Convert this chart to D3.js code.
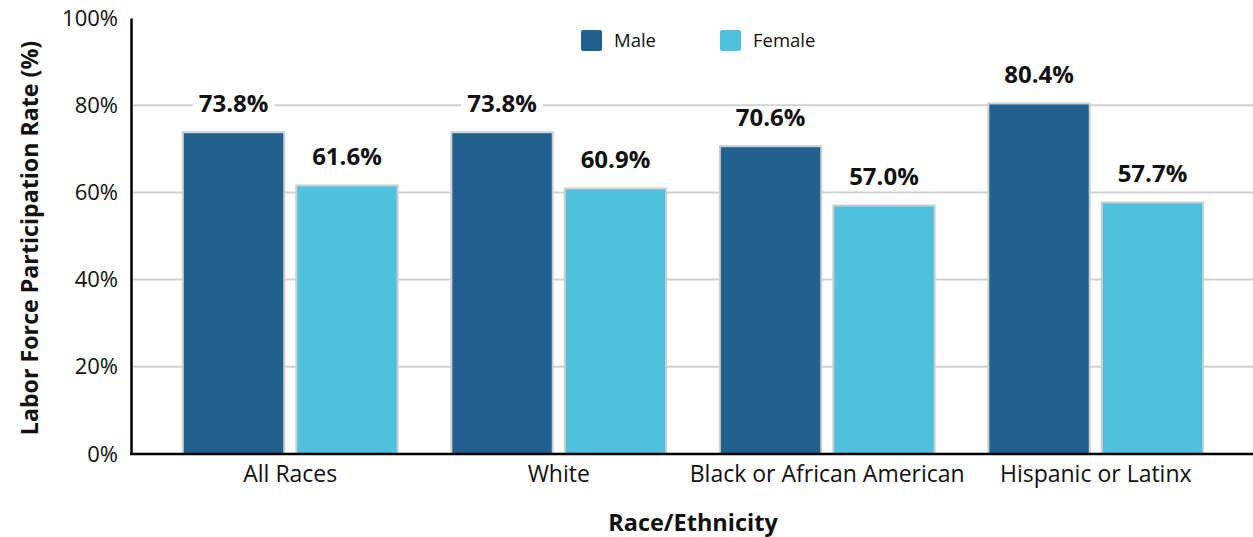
<!DOCTYPE html>
<html>
<head>
<meta charset="utf-8">
<script src="https://cdn.jsdelivr.net/npm/d3@7"></script>
<style>
  body { margin: 0; background: #fff; }
  svg { display: block; font-family: "Open Sans", "Noto Sans", sans-serif; }
</style>
</head>
<body>
<div class="chart"></div>
<script>
const categories = ["All Races", "White", "Black or African American", "Hispanic or Latinx"];
const seriesNames = ["Male", "Female"];
const male = [73.8, 73.8, 70.6, 80.4];
const female = [61.6, 60.9, 57.0, 57.7];
const yTicks = [0, 20, 40, 60, 80, 100];
const colors = ["#22618f", "#4fc1de"];

const width = 1253;
const height = 537;

const svg = d3.select(".chart").append("svg")
  .attr("width", width)
  .attr("height", height);

const x = d3.scaleBand()
  .domain(categories)
  .range([156, 1230])
  .paddingInner(0.2)
  .paddingOuter(0.1);

const xInner = d3.scaleBand()
  .domain(seriesNames)
  .range([0, x.bandwidth()])
  .paddingInner(0.106);

const y = d3.scaleLinear().domain([0, 100]).range([454, 18]);

// gridlines
svg.append("g")
  .selectAll("line")
  .data(yTicks.filter(d => d > 0 && d < 100))
  .join("line")
  .attr("x1", 131)
  .attr("x2", width)
  .attr("y1", d => y(d))
  .attr("y2", d => y(d))
  .attr("stroke", "#d0d0d0")
  .attr("stroke-width", 2);

// y axis
const yAxis = svg.append("g")
  .attr("transform", "translate(131,0)")
  .call(d3.axisLeft(y).tickValues(yTicks).tickFormat(d => d + "%").tickSize(0).tickPadding(13));
yAxis.select(".domain").attr("stroke", "#000").attr("stroke-width", 2.5);
yAxis.selectAll("text").attr("font-size", 22).attr("fill", "#111").attr("font-family", "Open Sans");

const rows = categories.map((c, i) => ({ cat: c, values: [male[i], female[i]] }));

const groups = svg.append("g")
  .selectAll("g")
  .data(rows)
  .join("g")
  .attr("transform", d => `translate(${x(d.cat)},0)`);

groups.selectAll("rect")
  .data(d => d.values.map((v, j) => ({ key: seriesNames[j], v, j })))
  .join("rect")
  .attr("x", d => xInner(d.key))
  .attr("y", d => y(d.v))
  .attr("width", xInner.bandwidth())
  .attr("height", d => y(0) - y(d.v))
  .attr("fill", d => colors[d.j])
  .attr("stroke", "#cfcfcf")
  .attr("stroke-width", 2);

// value labels with white background
const labels = groups.selectAll("g.lbl")
  .data(d => d.values.map((v, j) => ({ key: seriesNames[j], v, j })))
  .join("g")
  .attr("class", "lbl")
  .attr("transform", d => `translate(${xInner(d.key) + xInner.bandwidth() / 2},${y(d.v) - 20})`);

labels.append("rect")
  .attr("x", -41)
  .attr("y", -20)
  .attr("width", 82)
  .attr("height", 25)
  .attr("fill", "#fff");

labels.append("text")
  .attr("text-anchor", "middle")
  .attr("font-size", 24)
  .attr("font-weight", "bold")
  .attr("fill", "#111")
  .text(d => d.v.toFixed(1) + "%");

// x axis
const xAxis = svg.append("g")
  .attr("transform", "translate(0,454)")
  .call(d3.axisBottom(x).tickSize(0).tickPadding(12));
xAxis.select(".domain").remove();
xAxis.selectAll("text").attr("font-size", 23).attr("fill", "#111").attr("font-family", "Open Sans");

svg.append("line")
  .attr("x1", 130)
  .attr("x2", width)
  .attr("y1", 454)
  .attr("y2", 454)
  .attr("stroke", "#000")
  .attr("stroke-width", 2.5);

// axis titles
svg.append("text")
  .attr("x", 693)
  .attr("y", 531)
  .attr("text-anchor", "middle")
  .attr("font-size", 23.5)
  .attr("font-weight", "bold")
  .attr("fill", "#111")
  .text("Race/Ethnicity");

svg.append("text")
  .attr("transform", "translate(38,238) rotate(-90)")
  .attr("text-anchor", "middle")
  .attr("font-size", 23.2)
  .attr("font-weight", "bold")
  .attr("fill", "#111")
  .text("Labor Force Participation Rate (%)");

// legend
const legend = svg.append("g")
  .selectAll("g")
  .data(seriesNames)
  .join("g")
  .attr("transform", (d, i) => `translate(${581 + i * 139},30)`);

legend.append("rect")
  .attr("width", 21)
  .attr("height", 21)
  .attr("rx", 2)
  .attr("fill", (d, i) => colors[i]);

legend.append("text")
  .attr("x", 33)
  .attr("y", 17)
  .attr("font-size", 18.5)
  .attr("fill", "#111")
  .text(d => d);
</script>
</body>
</html>
